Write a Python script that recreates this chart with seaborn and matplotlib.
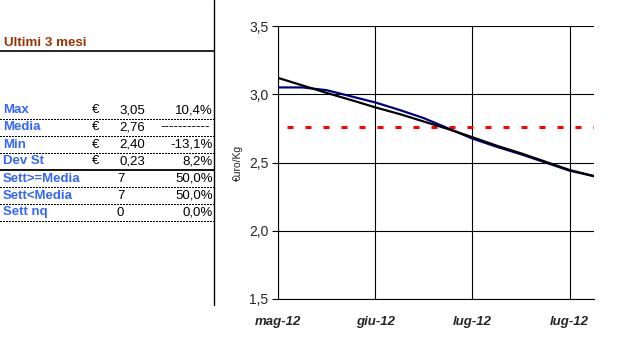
import matplotlib
matplotlib.use("Agg")
import matplotlib.pyplot as plt
import seaborn as sns
import pandas as pd
from matplotlib.lines import Line2D

# ---- data ----
weeks = list(range(14))
prezzo = [3.05, 3.05, 3.03, 2.985, 2.94, 2.885, 2.825, 2.75, 2.675, 2.615, 2.56, 2.50, 2.44, 2.40]
tendenza = [3.12, 3.065, 3.01, 2.958, 2.904, 2.855, 2.80, 2.745, 2.685, 2.623, 2.567, 2.506, 2.445, 2.40]
media = 2.76
tick_pos = [0, 4, 8, 12]
tick_labels = ["mag-12", "giu-12", "lug-12", "lug-12"]
y_ticks = [1.5, 2.0, 2.5, 3.0, 3.5]
y_tick_labels = ["1,5", "2,0", "2,5", "3,0", "3,5"]

stat_labels = ["Max", "Media", "Min", "Dev St"]
stat_values = ["3,05", "2,76", "2,40", "0,23"]
stat_pct = ["10,4%", "-----------", "-13,1%", "8,2%"]
sett_labels = ["Sett>=Media", "Sett<Media", "Sett nq"]
sett_values = ["7", "7", "0"]
sett_pct = ["50,0%", "50,0%", "0,0%"]

sns.set_style("white")
plt.rcParams["font.family"] = ["Liberation Sans", "DejaVu Sans"]
plt.rcParams["lines.scale_dashes"] = False

W, H = 628, 341
fig = plt.figure(figsize=(W / 100, H / 100), dpi=100)

def fx(x):
    return x / W

def fy(y):
    return 1 - y / H

PX = 0.72  # one pixel in points

# ---- chart ----
L, R, T, B = 278, 594, 26, 299
ax = fig.add_axes([fx(L), fy(B), fx(R - L), (B - T) / H])
df = pd.DataFrame({"week": weeks, "prezzo": prezzo, "tendenza": tendenza})
ax.axhline(media, color="#FF0000", lw=3 * PX,
           linestyle=(9 * PX, (6 * PX, 12 * PX)), zorder=2)
sns.lineplot(data=df, x="week", y="prezzo", ax=ax, color="#000080", lw=2.2 * PX, zorder=3)
sns.lineplot(data=df, x="week", y="tendenza", ax=ax, color="#000000", lw=2.2 * PX, zorder=4)
ax.set_xlim(0, 13)
ax.set_ylim(1.5, 3.5)
ax.set_xticks(tick_pos)
ax.set_xticklabels(tick_labels, fontsize=9.5, fontweight="bold", fontstyle="italic")
ax.set_yticks(y_ticks)
ax.set_yticklabels(y_tick_labels, fontsize=10)
ax.set_xlabel("")
ax.set_ylabel("€uro/Kg", fontsize=7.5, labelpad=4)
ax.grid(True, color="black", lw=1.1 * PX)
for s in ["top", "right"]:
    ax.spines[s].set_visible(False)
for s in ["left", "bottom"]:
    ax.spines[s].set_color("black")
    ax.spines[s].set_linewidth(1.1 * PX)
ax.tick_params(axis="y", which="both", left=True, length=4, width=1.1 * PX, color="black", pad=3)
ax.tick_params(axis="x", which="both", bottom=False, pad=9)
ax.set_axisbelow(True)

# ---- left panel ----
fig.add_artist(Line2D([fx(214), fx(214)], [fy(0), fy(305)], color="black", lw=1))
fig.add_artist(Line2D([fx(0), fx(214)], [fy(51), fy(51)], color="black", lw=1.2))
fig.text(fx(4), fy(43), "Ultimi 3 mesi", color="#993300", fontsize=9.6,
         fontweight="bold", va="center", ha="left")

blue = "#3366FF"
row_h = 17
y0 = 110.5
for i, (lab, val, pct) in enumerate(zip(stat_labels, stat_values, stat_pct)):
    yc = y0 + i * row_h
    fig.text(fx(3), fy(yc), lab, color=blue, fontsize=9.5, fontweight="bold", va="center")
    fig.text(fx(96), fy(yc), "€", color="black", fontsize=9.5, va="center", ha="center")
    fig.text(fx(145), fy(yc), val, color="black", fontsize=9.5, va="center", ha="right")
    if pct.startswith("-----"):
        fig.text(fx(185), fy(yc), pct, color="black", fontsize=9.5, va="center", ha="center")
    else:
        fig.text(fx(213), fy(yc), pct, color="black", fontsize=9.5, va="center", ha="right")
for j, (lab, val, pct) in enumerate(zip(sett_labels, sett_values, sett_pct)):
    yc = y0 + (4 + j) * row_h
    fig.text(fx(3), fy(yc), lab, color=blue, fontsize=9.5, fontweight="bold", va="center")
    fig.text(fx(117), fy(yc), val, color="black", fontsize=9.5, va="center", ha="left")
    fig.text(fx(213), fy(yc), pct, color="black", fontsize=9.5, va="center", ha="right")

for k in range(7):
    yl = 118.5 + k * row_h
    if k == 3:
        fig.add_artist(Line2D([fx(0), fx(214)], [fy(yl), fy(yl)], color="black", lw=1.3))
    else:
        fig.add_artist(Line2D([fx(0), fx(214)], [fy(yl), fy(yl)], color="black", lw=0.9,
                              dashes=(1.0, 1.0), antialiased=False))

fig.savefig("out.png", dpi=100)
